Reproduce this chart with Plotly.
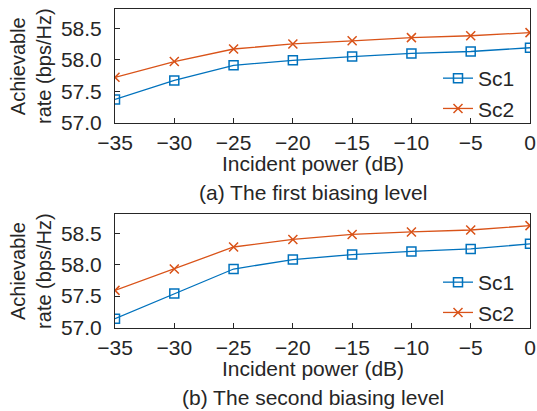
import plotly.graph_objects as go

power = [-35, -30, -25, -20, -15, -10, -5, 0]
a_sc1 = [57.37, 57.67, 57.91, 57.99, 58.05, 58.10, 58.13, 58.19]
a_sc2 = [57.72, 57.97, 58.17, 58.25, 58.30, 58.35, 58.38, 58.43]
b_sc1 = [57.14, 57.54, 57.93, 58.08, 58.16, 58.21, 58.25, 58.33]
b_sc2 = [57.59, 57.93, 58.28, 58.40, 58.48, 58.52, 58.55, 58.62]
x_ticks = [-35, -30, -25, -20, -15, -10, -5, 0]
y_ticks = [57.0, 57.5, 58.0, 58.5]
captions = ["(a) The first biasing level", "(b) The second biasing level"]

BLUE = "#0072BD"
ORANGE = "#D95319"
FONT = "Liberation Sans, Arial, sans-serif"
TXT = "#262626"
FS = 21

W = 537
H = 411

def fx(px):
    return px / W

def fy(py):
    return 1 - py / H

fig = go.Figure()

def add_pair(s1, s2, xa, ya, leg):
    fig.add_trace(go.Scatter(x=power, y=s1, mode="lines+markers", name="Sc1",
                             xaxis=xa, yaxis=ya, legend=leg,
                             line=dict(color=BLUE, width=1.3),
                             marker=dict(symbol="square-open", size=9, color=BLUE,
                                         line=dict(width=1.5, color=BLUE))))
    fig.add_trace(go.Scatter(x=power, y=s2, mode="lines+markers", name="Sc2",
                             xaxis=xa, yaxis=ya, legend=leg,
                             line=dict(color=ORANGE, width=1.3),
                             marker=dict(symbol="x-thin-open", size=9, color=ORANGE,
                                         line=dict(width=1.5, color=ORANGE))))

add_pair(a_sc1, a_sc2, "x", "y", "legend")
add_pair(b_sc1, b_sc2, "x2", "y2", "legend2")

xdom = [fx(115), fx(530)]
ydom1 = [fy(122.7), fy(9.3)]
ydom2 = [fy(327.5), fy(214.3)]

ax_common = dict(showline=True, linecolor="#262626", linewidth=1, mirror=True,
                 ticks="inside", ticklen=5, tickcolor="#262626", tickwidth=1,
                 showgrid=False, zeroline=False, automargin=False,
                 ticklabeloverflow="allow",
                 tickfont=dict(family=FONT, size=FS, color=TXT))

xa = dict(ax_common, range=[-35, 0], tickvals=x_ticks, domain=xdom, ticklabelstandoff=1)
ya = dict(ax_common, range=[57.0, 58.8], tickvals=y_ticks, tickformat=".1f",
          ticklabelstandoff=8)

leg_common = dict(xanchor="right", yanchor="bottom", bgcolor="rgba(0,0,0,0)",
                  font=dict(family=FONT, size=FS, color=TXT),
                  tracegroupgap=0, itemwidth=30)

fig.update_layout(
    width=W, height=H,
    margin=dict(l=0, r=0, t=0, b=0, autoexpand=False),
    paper_bgcolor="white", plot_bgcolor="white",
    font=dict(family=FONT, size=FS, color=TXT),
    xaxis=dict(xa, anchor="y"),
    yaxis=dict(ya, domain=ydom1, anchor="x"),
    xaxis2=dict(xa, anchor="y2"),
    yaxis2=dict(ya, domain=ydom2, anchor="x2"),
    legend=dict(leg_common, x=fx(520), y=fy(129)),
    legend2=dict(leg_common, x=fx(520), y=fy(333)),
    showlegend=True,
)

ann = []
for dom, cap, top, bot in zip([ydom1, ydom2], captions, [9.3, 214.3], [122.7, 327.5]):
    mid = (top + bot) / 2
    ann.append(dict(text="Achievable<br>rate (bps/Hz)", textangle=-90,
                    x=fx(31), y=fy(mid), xanchor="center", yanchor="middle",
                    xref="paper", yref="paper", showarrow=False,
                    font=dict(family=FONT, size=20, color=TXT)))
    ann.append(dict(text="Incident power (dB)", x=fx(313), y=fy(bot + 41),
                    xanchor="center", yanchor="middle",
                    xref="paper", yref="paper", showarrow=False,
                    font=dict(family=FONT, size=FS, color=TXT)))
    ann.append(dict(text=cap, x=fx(313), y=fy(bot + 69.5),
                    xanchor="center", yanchor="middle",
                    xref="paper", yref="paper", showarrow=False,
                    font=dict(family=FONT, size=FS, color=TXT)))
fig.update_layout(annotations=ann)

fig.write_html(
    "out.html",
    config={"displayModeBar": False},
    post_script="document.body.style.margin='0';"
                "document.documentElement.style.overflow='hidden';",
)
